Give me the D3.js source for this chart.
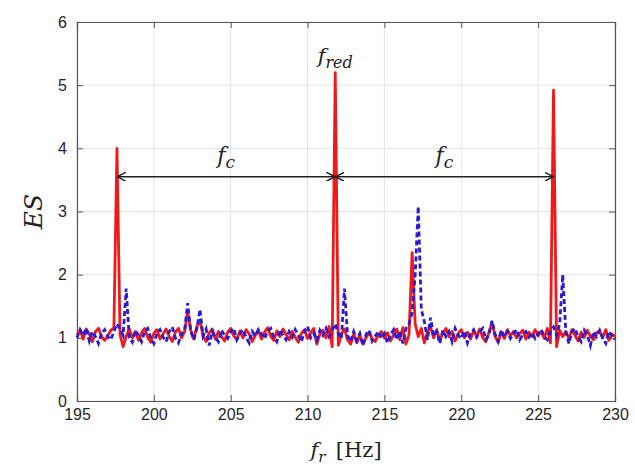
<!DOCTYPE html>
<html><head><meta charset="utf-8">
<script src="https://cdn.jsdelivr.net/npm/d3@7"></script>
<style>body{margin:0;background:#fff}svg{display:block}</style>
</head><body>
<script>
// ---- data ----
const xTicks = [195, 200, 205, 210, 215, 220, 225, 230];
const yTicks = [0, 1, 2, 3, 4, 5, 6];
const freqStart = 195, freqStep = 0.2;
const esRed = [
 1.05,1.12,0.98,1.14,1.06,0.94,1.10,1.15,1.02,0.96,
 1.03,1.12,1.16,4.00,1.05,0.86,1.02,1.14,1.00,1.10,
 0.96,1.08,1.15,1.01,0.93,1.07,1.13,0.98,1.06,1.14,
 1.02,0.94,1.09,1.15,1.00,1.10,1.42,1.12,0.98,1.18,
 1.28,1.03,0.94,1.08,1.14,0.98,1.10,1.02,0.95,1.09,
 1.15,1.03,0.97,1.11,1.00,1.13,1.06,0.94,1.04,1.12,
 0.98,1.09,1.16,1.03,0.96,1.11,1.02,1.14,1.05,0.97,
 1.10,1.01,0.93,1.07,1.13,0.99,1.08,1.15,0.90,1.06,
 1.12,1.00,1.18,0.86,5.20,0.88,1.06,1.14,0.97,0.90,
 1.06,0.92,1.04,0.90,1.00,1.08,0.99,0.94,1.05,1.10,
 1.00,1.08,0.95,1.05,1.14,0.97,1.16,0.90,1.05,2.35,
 1.22,1.02,1.15,0.92,1.10,1.17,1.00,1.13,0.96,1.07,
 1.15,1.02,1.10,0.95,1.07,1.13,1.00,1.09,0.98,1.11,
 1.03,1.14,1.00,0.94,1.09,1.24,1.02,0.93,1.10,0.99,
 1.13,1.03,1.10,1.00,1.07,1.12,0.98,1.09,1.02,1.13,
 1.03,1.10,0.99,1.15,0.92,4.92,0.86,1.12,1.02,1.10,
 0.99,1.13,1.04,0.95,1.09,1.01,1.12,1.02,0.97,1.08,
 1.11,1.00,1.13,0.96,1.06,1.02
];
const esBlue = [
 1.00,1.13,1.04,1.15,0.95,1.10,1.02,0.91,1.07,1.13,
 1.02,0.97,1.10,1.22,1.14,1.04,1.78,1.00,0.93,1.12,
 1.04,0.94,1.10,1.15,1.00,0.91,1.07,1.13,1.01,0.94,
 1.10,1.17,1.00,0.92,1.06,1.12,1.55,1.10,0.97,1.15,
 1.45,1.03,1.14,0.88,1.10,1.01,0.94,1.12,1.04,0.99,
 1.10,1.15,0.97,1.07,1.13,1.01,0.92,1.10,1.03,1.13,
 1.06,0.99,1.10,1.15,1.01,0.94,1.13,1.04,0.97,1.10,
 1.01,1.13,1.04,0.94,1.10,1.18,1.00,1.07,0.96,1.12,
 1.04,1.15,1.02,1.12,1.22,1.07,0.99,1.78,1.04,0.94,
 1.10,0.96,1.07,0.88,1.05,1.12,0.95,1.03,1.10,0.99,
 1.07,0.92,1.05,1.13,0.97,1.10,0.91,1.15,1.22,1.40,
 2.00,3.08,1.45,1.25,0.97,1.32,1.03,1.10,0.91,1.12,
 1.02,1.10,0.94,1.15,1.04,0.99,1.11,0.92,1.07,1.13,
 1.01,1.10,1.15,0.97,1.05,1.27,1.06,0.94,1.12,1.02,
 1.10,0.99,1.07,1.13,0.97,1.05,1.10,1.01,1.08,0.99,
 1.07,1.13,1.02,0.97,1.10,1.17,1.04,1.22,2.00,1.10,
 0.91,1.10,1.15,1.01,0.94,1.12,1.04,0.88,1.10,1.02,
 1.12,0.99,0.91,1.10,1.03,0.97
];
const peakFreqs = [197.6, 211.8, 226.0];
const arrowLevel = 3.55;

// ---- chart ----
const W = 635, H = 469;
const m = {left: 77, top: 22, right: 20, bottom: 68};
const iw = W - m.left - m.right, ih = H - m.top - m.bottom;
const svg = d3.select("body").append("svg").attr("width", W).attr("height", H);
const g = svg.append("g").attr("transform", `translate(${m.left},${m.top})`);
const x = d3.scaleLinear().domain([195, 230]).range([0, iw]);
const y = d3.scaleLinear().domain([0, 6]).range([ih, 0]);

// grid
g.append("g").selectAll("line").data(xTicks).join("line")
  .attr("x1", d => x(d)).attr("x2", d => x(d)).attr("y1", 0).attr("y2", ih)
  .attr("stroke", "#e4e4e4").attr("stroke-width", 1);
g.append("g").selectAll("line").data(yTicks).join("line")
  .attr("y1", d => y(d)).attr("y2", d => y(d)).attr("x1", 0).attr("x2", iw)
  .attr("stroke", "#e4e4e4").attr("stroke-width", 1);

// axes
const tickCol = "#262626";
const ax = g.append("g").attr("transform", `translate(0,${ih})`)
  .call(d3.axisBottom(x).tickValues(xTicks).tickSize(-6).tickPadding(10).tickFormat(d3.format("d")));
const axT = g.append("g").call(d3.axisTop(x).tickValues(xTicks).tickSize(-6).tickFormat(""));
const ay = g.append("g").call(d3.axisLeft(y).tickValues(yTicks).tickSize(-6).tickPadding(10).tickFormat(d3.format("d")));
const ayR = g.append("g").attr("transform", `translate(${iw},0)`)
  .call(d3.axisRight(y).tickValues(yTicks).tickSize(-6).tickFormat(""));
[ax, axT, ay, ayR].forEach(a => {
  a.select(".domain").attr("stroke", "#555").attr("stroke-width", 1.2);
  a.selectAll(".tick line").attr("stroke", "#555");
  a.selectAll("text").attr("fill", tickCol).style("font-family", "Liberation Sans, Arial, sans-serif").style("font-size", "16px");
});
ax.selectAll("text").attr("dy", "0.55em");

// lines
const freqs = esRed.map((_, i) => +(freqStart + i * freqStep).toFixed(2));
const line = d3.line().x((d, i) => x(freqs[i])).y(d => y(d));
g.append("path").datum(esRed).attr("d", line).attr("fill", "none")
  .attr("stroke", "#f01818").attr("stroke-width", 2.8).attr("stroke-linejoin", "round");
g.append("path").datum(esBlue).attr("d", line).attr("fill", "none")
  .attr("stroke", "#2a1ad8").attr("stroke-width", 2.8).attr("stroke-dasharray", "5,3");

// arrows
const defs = svg.append("defs");
defs.append("marker").attr("id", "ah").attr("viewBox", "0 0 10 10").attr("refX", 10).attr("refY", 5)
  .attr("markerWidth", 9).attr("markerHeight", 9).attr("markerUnits", "userSpaceOnUse").attr("orient", "auto-start-reverse")
  .append("path").attr("d", "M0,0 L10,5 L0,10").attr("fill", "none").attr("stroke", "#222").attr("stroke-width", 1.6);
for (let k = 0; k < 2; k++) {
  g.append("line").attr("x1", x(peakFreqs[k])).attr("x2", x(peakFreqs[k + 1]))
    .attr("y1", y(arrowLevel)).attr("y2", y(arrowLevel))
    .attr("stroke", "#222").attr("stroke-width", 1.6)
    .attr("marker-start", "url(#ah)").attr("marker-end", "url(#ah)");
  const t = g.append("text").attr("x", x((peakFreqs[k] + peakFreqs[k + 1]) / 2))
    .attr("y", y(arrowLevel) - 14).attr("text-anchor", "middle")
    .style("font-family", "DejaVu Serif, serif").style("font-style", "italic").style("font-size", "22px").attr("fill", "#222");
  t.append("tspan").text("f");
  t.append("tspan").text("c").attr("dy", 5).style("font-size", "17px");
}
const tr = g.append("text").attr("x", x(peakFreqs[1])).attr("y", y(5.2) - 10).attr("text-anchor", "middle")
  .style("font-family", "DejaVu Serif, serif").style("font-style", "italic").style("font-size", "21px").attr("fill", "#222");
tr.append("tspan").text("f");
tr.append("tspan").text("red").attr("dy", 5).style("font-size", "16px");

// axis labels
svg.append("text").attr("transform", `translate(42,${m.top + ih / 2}) rotate(-90)`).attr("text-anchor", "middle")
  .style("font-family", "DejaVu Serif, serif").style("font-style", "italic").style("font-size", "25px").attr("fill", "#222").text("ES");
const xl = svg.append("text").attr("x", m.left + iw / 2).attr("y", H - 12).attr("text-anchor", "middle")
  .style("font-family", "DejaVu Serif, serif").style("font-size", "21px").attr("fill", "#222");
xl.append("tspan").text("f").style("font-style", "italic");
xl.append("tspan").text("r").style("font-style", "italic").style("font-size", "15px").attr("dy", 5);
xl.append("tspan").text("\u2002[Hz]").attr("dy", -5);
</script>
</body></html>
